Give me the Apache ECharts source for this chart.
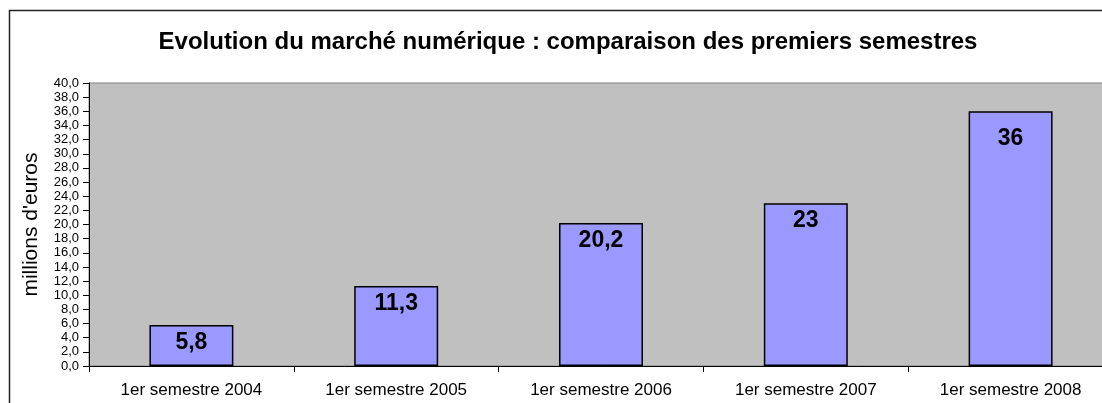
<!DOCTYPE html>
<html lang="fr">
<head>
    <meta charset="UTF-8">
    <title>Evolution du marché numérique</title>
    <style type="text/css">
        *{
            margin: 0;
            padding: 0;
        }
        body{
            overflow: hidden;
            background: #fff;
        }
        #main{
            width: 1115px;
            height: 403px;
        }
    </style>
</head>
<body>
    <div id="main"></div>
    <script src="https://cdn.jsdelivr.net/npm/echarts@6/dist/echarts.min.js"></script>
    <script type="text/javascript">
        var myChart = echarts.init(document.getElementById('main'));

        // données
        var semestres = ['1er semestre 2004', '1er semestre 2005', '1er semestre 2006', '1er semestre 2007', '1er semestre 2008'];
        var ventes = [5.8, 11.3, 20.2, 23, 36];
        var yMin = 0, yMax = 40, yStep = 2;

        // décalage des étiquettes (la dernière est plus basse dans l'original)
        var labelDistance = [6, 6, 6, 6, 16];

        var option = {
            animation: false,
            textStyle: { fontFamily: 'Liberation Sans, Arial, sans-serif' },
            title: {
                text: 'Evolution du marché numérique : comparaison des premiers semestres',
                left: 563,
                textAlign: 'center',
                top: 25,
                textStyle: { fontSize: 24, fontWeight: 'bold', color: '#000' }
            },
            // cadre du graphique
            graphic: [{
                type: 'rect',
                shape: { x: 9.5, y: 10.5, width: 1200, height: 500 },
                style: { fill: 'none', stroke: '#222', lineWidth: 1.5 },
                silent: true
            }],
            grid: {
                left: 89,
                right: 2,
                top: 83,
                bottom: 37,
                show: true,
                backgroundColor: '#C0C0C0',
                borderColor: '#808080',
                borderWidth: 1
            },
            xAxis: {
                type: 'category',
                data: semestres,
                axisLine: { lineStyle: { color: '#000', width: 1 } },
                axisTick: { show: true, length: 6, lineStyle: { color: '#000' } },
                axisLabel: { fontSize: 17, color: '#000', margin: 16 }
            },
            yAxis: {
                type: 'value',
                min: yMin,
                max: yMax,
                interval: yStep,
                name: "millions d'euros",
                nameLocation: 'middle',
                nameGap: 47,
                nameTextStyle: { fontSize: 21, color: '#000' },
                axisLine: { show: true, lineStyle: { color: '#000', width: 1 } },
                axisTick: { show: true, length: 6, lineStyle: { color: '#000' } },
                splitLine: { show: false },
                axisLabel: {
                    fontSize: 13,
                    color: '#000',
                    margin: 10,
                    formatter: function (v) {
                        return v.toFixed(1).replace('.', ',');
                    }
                }
            },
            series: [{
                type: 'bar',
                data: ventes.map(function (v, i) {
                    return { value: v, label: { distance: labelDistance[i] } };
                }),
                barWidth: '41%',
                itemStyle: {
                    color: '#9999FF',
                    borderColor: '#000',
                    borderWidth: 1.5
                },
                label: {
                    show: true,
                    position: 'insideTop',
                    distance: 6,
                    fontSize: 23,
                    fontWeight: 'bold',
                    color: '#000',
                    formatter: function (p) {
                        return String(p.value).replace('.', ',');
                    }
                }
            }]
        };

        myChart.setOption(option);
    </script>
</body>
</html>
